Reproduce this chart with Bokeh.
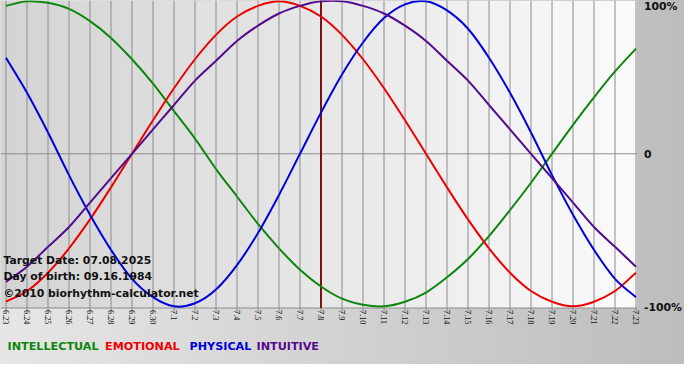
import math
import numpy as np
from bokeh.plotting import figure
from bokeh.models import Range1d, Label
from bokeh.embed import file_html
from bokeh.resources import INLINE

# ---- data ----
dates = ["6.23", "6.24", "6.25", "6.26", "6.27", "6.28", "6.29", "6.30",
         "7.1", "7.2", "7.3", "7.4", "7.5", "7.6", "7.7", "7.8", "7.9",
         "7.10", "7.11", "7.12", "7.13", "7.14", "7.15", "7.16", "7.17",
         "7.18", "7.19", "7.20", "7.21", "7.22", "7.23"]

intellectual = [0.97, 1.00, 0.99, 0.95, 0.87, 0.76, 0.62, 0.46, 0.28, 0.10,
                -0.10, -0.28, -0.46, -0.62, -0.76, -0.87, -0.95, -0.99, -1.00,
                -0.97, -0.91, -0.81, -0.69, -0.54, -0.37, -0.19, 0.00, 0.19,
                0.37, 0.54, 0.69]
emotional = [-0.97, -0.90, -0.78, -0.62, -0.43, -0.22, 0.00, 0.22, 0.43, 0.62,
             0.78, 0.90, 0.97, 1.00, 0.97, 0.90, 0.78, 0.62, 0.43, 0.22, 0.00,
             -0.22, -0.43, -0.62, -0.78, -0.90, -0.97, -1.00, -0.97, -0.90, -0.78]
physical = [0.63, 0.40, 0.14, -0.14, -0.40, -0.63, -0.82, -0.94, -1.00, -0.98,
            -0.89, -0.73, -0.52, -0.27, 0.00, 0.27, 0.52, 0.73, 0.89, 0.98,
            1.00, 0.94, 0.82, 0.63, 0.40, 0.14, -0.14, -0.40, -0.63, -0.82, -0.94]
intuitive = [-0.84, -0.74, -0.61, -0.48, -0.32, -0.16, 0.00, 0.16, 0.32, 0.48,
             0.61, 0.74, 0.84, 0.92, 0.97, 1.00, 1.00, 0.97, 0.92, 0.84, 0.74,
             0.61, 0.48, 0.32, 0.16, 0.00, -0.16, -0.32, -0.48, -0.61, -0.74]

target_date = "7.8"
level_ticks = [1.0, 0.0, -1.0]
level_labels = ["100%", "0", "-100%"]
info_lines = ["Target Date: 07.08.2025", "Day of birth: 09.16.1984",
              "\u00a92010 biorhythm-calculator.net"]
series_names = ["INTELLECTUAL", "EMOTIONAL", "PHYSICAL", "INTUITIVE"]

# ---- styling / layout ----
colors = ["#0b870b", "#ee0000", "#0000dd", "#520a8c"]
FONT = "DejaVu Sans"
W, H = 684, 364
PX_DAY = 21.0           # pixels per day
PX_UNIT = 152.5         # pixels per 100%
ZERO_Y = 153.3          # pixel row of the 0 line
x_start = -5.5 / PX_DAY
x_end = x_start + W / PX_DAY
y_end = ZERO_Y / PX_UNIT
y_start = y_end - H / PX_UNIT

def dy(px):
    return px / PX_UNIT

x = list(range(len(dates)))
area_right = x[-1] + 1.0 / PX_DAY
area_bottom = -1.0 - dy(1.7)

p = figure(width=W, height=H, output_backend="svg", toolbar_location=None,
           x_range=Range1d(x_start, x_end), y_range=Range1d(y_start, y_end),
           x_axis_location=None, y_axis_location=None,
           min_border_left=0, min_border_right=0, min_border_top=0,
           min_border_bottom=0)
p.outline_line_color = None
p.border_fill_color = None
p.background_fill_color = None
p.xgrid.visible = False
p.ygrid.visible = False
p.styles = {"background": "linear-gradient(to right, #e6e6e6, #bdbdbd)"}

# plot-area gradient background
n = 256
img = np.zeros((1, n), dtype=np.uint32)
view = img.view(dtype=np.uint8).reshape((1, n, 4))
shade = np.linspace(212, 251, n).astype(np.uint8)
view[0, :, 0] = shade
view[0, :, 1] = shade
view[0, :, 2] = shade
view[0, :, 3] = 255
p.image_rgba(image=[img], x=x_start, y=area_bottom, dw=area_right - x_start,
             dh=y_end - area_bottom, level="image")

# vertical day lines (grid + ticks below the axis)
GRID = "#8c8c8c"
p.segment(x0=x, y0=[y_end] * len(x), x1=x, y1=[area_bottom - dy(5)] * len(x),
          line_color=GRID, line_width=1)
# zero line and bottom axis line
p.segment(x0=[x_start, x_start], y0=[0.0, area_bottom],
          x1=[area_right, area_right], y1=[0.0, area_bottom],
          line_color=GRID, line_width=1)

# day labels (rotated)
p.text(x=x, y=[area_bottom - dy(2)] * len(x), text=dates, angle=-math.pi / 2,
       text_align="left", text_baseline="middle", text_font=FONT,
       text_font_size="8.3px", text_color="#111111")

# target date marker
ti = dates.index(target_date)
p.segment(x0=[ti], y0=[y_end], x1=[ti], y1=[area_bottom],
          line_color="#7a1212", line_width=2)

# smooth curves through the daily values (cubic Bezier, Catmull-Rom handles)
def bezier_parts(vals):
    n = len(vals)
    ext = [2 * vals[0] - vals[1]] + list(vals) + [2 * vals[-1] - vals[-2]]
    xs = [-1] + list(range(n)) + [n]
    out = dict(x0=[], y0=[], x1=[], y1=[], cx0=[], cy0=[], cx1=[], cy1=[])
    for i in range(n - 1):
        j = i + 1  # index into ext
        out["x0"].append(xs[j]); out["y0"].append(ext[j])
        out["x1"].append(xs[j + 1]); out["y1"].append(ext[j + 1])
        out["cx0"].append(xs[j] + (xs[j + 1] - xs[j - 1]) / 6.0)
        out["cy0"].append(ext[j] + (ext[j + 1] - ext[j - 1]) / 6.0)
        out["cx1"].append(xs[j + 1] - (xs[j + 2] - xs[j]) / 6.0)
        out["cy1"].append(ext[j + 1] - (ext[j + 2] - ext[j]) / 6.0)
    return out

for vals, c in zip([intellectual, emotional, physical, intuitive], colors):
    p.bezier(**bezier_parts(vals), line_color=c, line_width=2)

# right-hand level labels
for yv, t, off in zip(level_ticks, level_labels, [-5.5, 0, -1]):
    p.add_layout(Label(x=area_right, y=yv, x_offset=7, y_offset=off, text=t,
                       text_font=FONT, text_font_style="bold",
                       text_font_size="10.8px", text_color="#111111",
                       text_baseline="middle"))

# info text on the chart
for sy, t in zip([259.6, 276.0, 293.2], info_lines):
    p.add_layout(Label(x=3, x_units="screen", y=(ZERO_Y - sy) / PX_UNIT, text=t,
                       text_font=FONT, text_font_style="bold",
                       text_font_size="10.8px", text_color="#111111",
                       text_baseline="middle"))

# coloured series names at the bottom
for sx, t, c in zip([7, 104.5, 189, 256], series_names, colors):
    p.add_layout(Label(x=sx, x_units="screen", y=(ZERO_Y - 346.0) / PX_UNIT,
                       text=t, text_font=FONT, text_font_size="11.2px",
                       text_font_style="bold", text_color=c,
                       text_baseline="middle"))

open("out.html", "w").write(file_html(p, INLINE))
